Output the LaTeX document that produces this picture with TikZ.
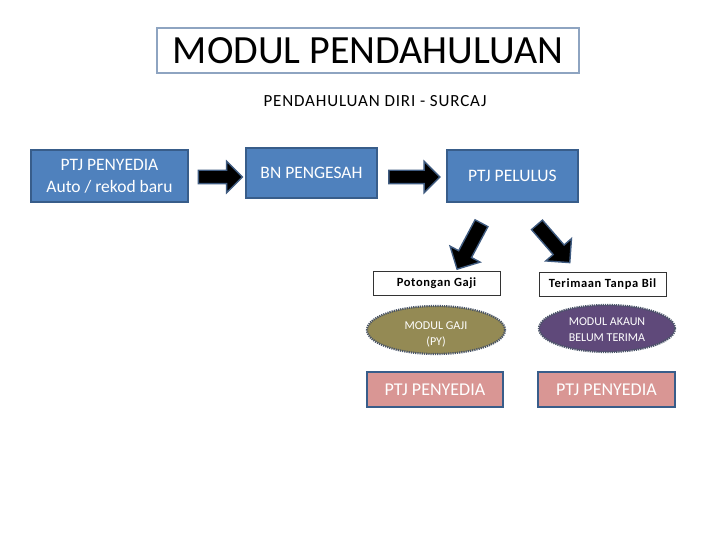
\documentclass[tikz,border=0pt]{standalone}
\usepackage{fontspec}
\setmainfont{Carlito}
\usetikzlibrary{shapes.geometric,shapes.arrows}
\definecolor{bluefill}{HTML}{4F81BD}
\definecolor{blueline}{HTML}{385D8A}
\definecolor{titleline}{HTML}{8EA4C1}
\definecolor{olive}{HTML}{948A54}
\definecolor{purp}{HTML}{5F497A}
\definecolor{pink}{HTML}{D99694}
\definecolor{arrline}{HTML}{3F5B80}
\definecolor{dotline}{HTML}{4A5568}
\tikzset{
  bluebox/.style={draw=blueline, line width=1.6pt, fill=bluefill, text=white, font=\fontsize{17.5}{22}\selectfont, align=center, inner sep=0pt},
  whitebox/.style={draw=black!80, line width=0.8pt, fill=white, font=\bfseries\fontsize{12.5}{14}\selectfont\addfontfeature{LetterSpace=5}, inner sep=0pt},
  pinkbox/.style={draw=blueline, line width=1.8pt, fill=pink, text=white, font=\fontsize{18}{20}\selectfont, inner sep=0pt},
  modell/.style={ellipse, draw=dotline, line width=2.2pt, dash pattern=on 1.2pt off 1pt, inner sep=0pt},
  elltext/.style={text=white, font=\fontsize{12}{15.5}\selectfont, align=center, inner sep=0pt},
  blockarr/.style={single arrow, fill=black, draw=arrline, line width=1.4pt, inner xsep=0pt, inner ysep=6pt, single arrow head extend=9pt, single arrow head indent=0pt, anchor=center},
}
\begin{document}
\begin{tikzpicture}[x=1pt,y=-1pt]
\useasboundingbox (0,0) rectangle (720,540);
% title
\node[draw=titleline, line width=2.5pt, minimum width=422pt, minimum height=45pt, inner sep=0pt, font=\fontsize{40}{42}\selectfont] (title) at (368,50.5) {MODUL PENDAHULUAN};
\node[font=\fontsize{17}{20}\selectfont\addfontfeature{LetterSpace=5}, inner sep=0pt] (sub) at (375,101) {PENDAHULUAN DIRI - SURCAJ};
% top row
\node[bluebox, minimum width=157pt, minimum height=52pt] (b1) at (109.5,176) {PTJ PENYEDIA\\Auto / rekod baru};
\node[bluebox, minimum width=131pt, minimum height=50pt] (b2) at (311.5,173) {BN PENGESAH};
\node[bluebox, minimum width=131pt, minimum height=52pt] (b3) at (512.5,176) {PTJ PELULUS};
% arrows
\node[blockarr, minimum height=44pt, minimum width=31pt] (a1) at (217,177) {};
\node[blockarr, minimum height=51pt, minimum width=30pt] (a2) at (411,177) {};
\node[blockarr, minimum height=52pt, minimum width=34pt, rotate=-118] (a3) at (471,243) {};
\node[blockarr, minimum height=50pt, minimum width=34pt, rotate=-49] (a4) at (551,241) {};
% second row
\node[whitebox, minimum width=127pt, minimum height=24pt] (p1) at (436.5,283) {Potongan Gaji};
\node[whitebox, minimum width=127pt, minimum height=24pt] (p2) at (602.5,284) {Terimaan Tanpa Bil};
% ellipses
\node[modell, fill=olive, minimum width=138pt, minimum height=48pt, label={[elltext, yshift=-4.5pt]center:{MODUL GAJI\\(PY)}}] (e1) at (436,330) {};
\node[modell, fill=purp, minimum width=136pt, minimum height=47pt, label={[elltext, yshift=-1pt]center:{MODUL AKAUN\\BELUM TERIMA}}] (e2) at (607,328.5) {};
% pink boxes
\node[pinkbox, minimum width=136pt, minimum height=35pt] (k1) at (435,389.5) {PTJ PENYEDIA};
\node[pinkbox, minimum width=137pt, minimum height=35pt] (k2) at (606.5,389.5) {PTJ PENYEDIA};
\end{tikzpicture}
\end{document}
